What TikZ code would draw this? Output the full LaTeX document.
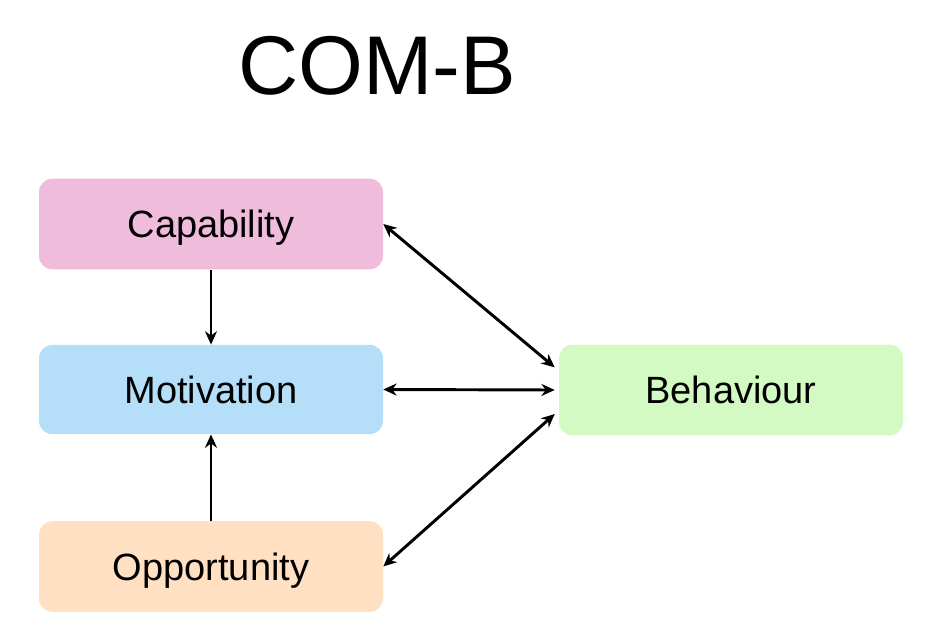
\documentclass[tikz,border=0pt]{standalone}
\usepackage{fontspec}
\setmainfont{Liberation Sans}
\usetikzlibrary{arrows.meta}
\definecolor{capcol}{RGB}{240,188,220}
\definecolor{motcol}{RGB}{181,223,249}
\definecolor{oppcol}{RGB}{255,224,195}
\definecolor{behcol}{RGB}{212,250,196}
\tikzset{
  box/.style={rounded corners=10pt, minimum width=258pt, minimum height=68pt, inner sep=0pt, text height=20.4pt, text depth=0pt, font=\fontsize{28.5}{32}\selectfont},
  conn/.style={line width=2.2pt, -{Stealth[length=10pt,width=9pt]}},
  biconn/.style={line width=2.2pt, {Stealth[length=10pt,width=9pt]}-{Stealth[length=10pt,width=9pt]}}
}
\begin{document}
\begin{tikzpicture}[x=0.75pt,y=-0.75pt]
\useasboundingbox (0,0) rectangle (931,628);
\node (title) at (377,66) {\fontsize{62.5}{70}\selectfont COM-B};
\node[box, fill=capcol] (cap) at (211,224) {Capability};
\node[box, fill=motcol, minimum height=67pt] (mot) at (211,389.5) {Motivation};
\node[box, fill=oppcol] (opp) at (211,566.5) {Opportunity};
\node[box, fill=behcol] (beh) at (731,390) {Behaviour};
\draw[conn] (cap.south) -- (mot.north);
\draw[conn] (opp.north) -- (mot.south);
\draw[biconn] (cap.east) -- ([xshift=-3pt,yshift=17pt]beh.west);
\draw[biconn] (mot.east) -- ([xshift=-3pt]beh.west);
\draw[biconn] (opp.east) -- ([xshift=-3pt,yshift=-18pt]beh.west);
\end{tikzpicture}
\end{document}
